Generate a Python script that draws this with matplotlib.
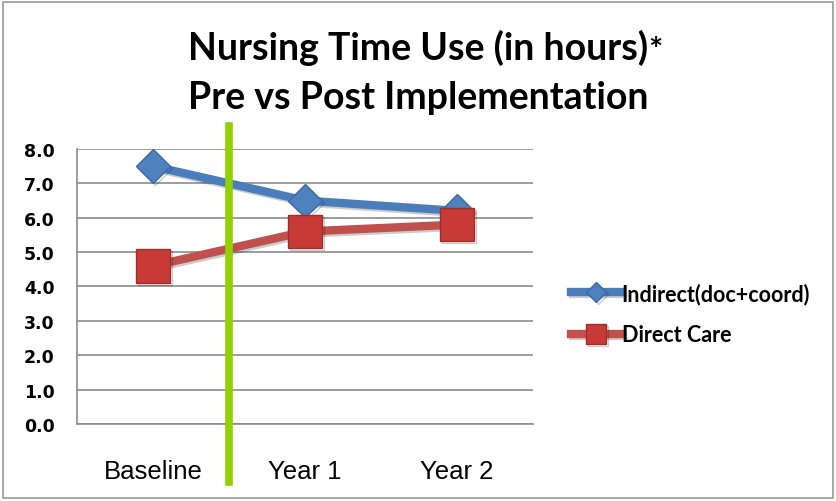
import matplotlib.pyplot as plt
import matplotlib.patheffects as pe
from matplotlib.patches import Rectangle

# Data
categories = ['Baseline', 'Year 1', 'Year 2']
indirect = [7.5, 6.5, 6.2]
direct_care = [4.6, 5.6, 5.8]
y_ticks = [0.0, 1.0, 2.0, 3.0, 4.0, 5.0, 6.0, 7.0, 8.0]
divider_at = 1.0  # implementation boundary between Baseline and Year 1

fig = plt.figure(figsize=(8.36, 5.02), dpi=100)
ax = fig.add_axes([0.0921, 0.1534, 0.5455, 0.5478])

# outer frame of the slide chart
fig.patches.append(Rectangle((0.003, 0.006), 0.993, 0.988, transform=fig.transFigure,
                             fill=False, edgecolor='#9a9a9a', linewidth=1.2))

x = [i + 0.5 for i in range(len(categories))]
shadow = [pe.SimpleLineShadow(offset=(1.5, -1.5), alpha=0.2), pe.Normal()]

ax.plot(x, indirect, color='#4A7EBB', linewidth=6, marker='D', markersize=17,
        markerfacecolor='#4F81BD', markeredgecolor='#3A6AA8', markeredgewidth=1,
        label='Indirect(doc+coord)', zorder=3, path_effects=shadow)
ax.plot(x, direct_care, color='#C0504D', linewidth=6, marker='s', markersize=24,
        markerfacecolor='#C83A36', markeredgecolor='#9B2F2C', markeredgewidth=1,
        label='Direct Care', zorder=4, path_effects=shadow)

# green divider line, runs past the plot area
ax.plot([divider_at, divider_at], [-1.69, 8.66], color='#92D000', linewidth=5.5,
        clip_on=False, zorder=5)

ax.set_xlim(0, len(categories))
ax.set_ylim(0, 8)
ax.set_yticks(y_ticks)
ax.set_yticklabels([f'{v:.1f}' for v in y_ticks], fontfamily='DejaVu Sans',
                   fontweight='bold', fontsize=12.5)
ax.set_xticks(x)
ax.set_xticklabels(categories, fontfamily='Liberation Sans', fontsize=18.5)
ax.tick_params(axis='y', length=0, pad=16)
ax.tick_params(axis='x', length=0, pad=25)
ax.grid(axis='y', color='#8c8c8c', linewidth=1.2)
ax.set_axisbelow(True)
for side in ['top', 'right']:
    ax.spines[side].set_visible(False)
for side in ['left', 'bottom']:
    ax.spines[side].set_color('#8c8c8c')
    ax.spines[side].set_linewidth(1.2)

t1 = fig.text(0.5, 0.905, 'Nursing Time Use (in hours)', ha='center', va='center',
              fontfamily='Lato', fontweight='bold', fontsize=27)
ax.annotate('*', xy=(1.0, 0.0), xycoords=t1, ha='left', va='bottom',
            fontfamily='Lato', fontweight='bold', fontsize=24, annotation_clip=False)
fig.text(0.5, 0.805, 'Pre vs Post Implementation', ha='center', va='center',
         fontfamily='Lato', fontweight='bold', fontsize=27)

leg = fig.legend(loc='center left', bbox_to_anchor=(0.66, 0.373), frameon=False,
                 prop={'family': 'Lato', 'weight': 'bold', 'size': 15.5},
                 handlelength=2.3, handletextpad=0.05, labelspacing=0.95, markerscale=0.6)

plt.savefig('out.png', dpi=100)
